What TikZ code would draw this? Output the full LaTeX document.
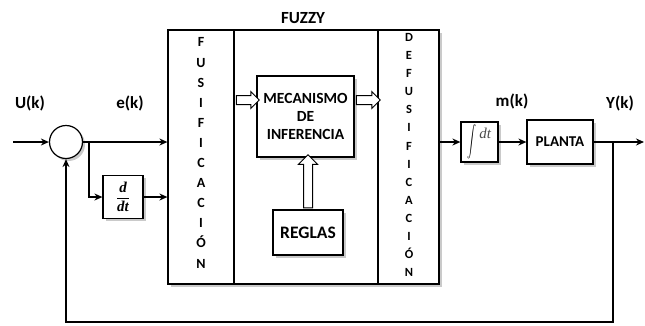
\documentclass[tikz,border=0pt]{standalone}
\usepackage{fontspec}
\usepackage{graphicx}
\setmainfont{Carlito}
\newfontfamily\mathlikefont{Liberation Serif}
\usetikzlibrary{arrows.meta,shapes.arrows,shadows,calc}
\begin{document}
\begin{tikzpicture}[x=1pt,y=-1pt,
  conn/.style={line width=1.6pt},
  >={Stealth[length=8pt,width=7pt]},
  shad/.style={drop shadow={shadow xshift=2.5pt,shadow yshift=-2.5pt,opacity=0.35,fill=black!60}},
  blk/.style={draw,fill=white,line width=1.2pt,inner sep=0pt},
  frame/.style={draw,line width=1.2pt,inner sep=0pt},
  harrow/.style={single arrow,draw,fill=white,line width=1pt,inner xsep=0pt,inner ysep=4pt,single arrow head extend=4pt},
  varrow/.style={single arrow,draw,fill=white,line width=1pt,inner xsep=4pt,inner ysep=0pt,single arrow head extend=5pt,shape border rotate=90},
  lbl/.style={font=\bfseries\fontsize{17}{17}\selectfont},
  vlet/.style={align=center,font=\bfseries\fontsize{14}{20.1}\selectfont},
  vlet2/.style={align=center,font=\bfseries\fontsize{12.5}{18.1}\selectfont}]
\useasboundingbox (0,0) rectangle (645,325);
% fuzzy frame
\node[blk,shad,minimum width=271pt,minimum height=254pt] (fz) at (303.5,157) {};
\node[frame,minimum width=66pt,minimum height=254pt] (fus) at (201,157) {};
\node[frame,minimum width=144pt,minimum height=254pt] (mid) at (306,157) {};
\node[frame,minimum width=61pt,minimum height=254pt] (defus) at (408.5,157) {};
\node[lbl] (fuzzy) at (303,18) {FUZZY};
\node[vlet] (fustxt) at (201,153) {F\\U\\S\\I\\F\\I\\C\\A\\C\\I\\Ó\\N};
\node[vlet2] (defustxt) at (409,155) {D\\E\\F\\U\\S\\I\\F\\I\\C\\A\\C\\I\\Ó\\N};
% inner blocks
\node[blk,shad,minimum width=97pt,minimum height=81pt,align=center,
      font=\bfseries\fontsize{15.5}{18}\selectfont] (mec) at (305.5,116.5) {MECANISMO\\DE\\INFERENCIA};
\node[blk,shad,minimum width=70pt,minimum height=45pt,
      font=\bfseries\fontsize{17.5}{18}\selectfont] (reg) at (308,232.5) {REGLAS};
\node[harrow,minimum height=23pt] (ha1) at (245.5,100) {};
\node[harrow,minimum height=24pt] (ha2) at (366,100) {};
\node[varrow,minimum height=53pt] (ha3) at (308,183.5) {};
% left side
\node[draw,circle,fill=white,line width=1.2pt,minimum size=33pt,inner sep=0pt,shad] (sum) at (66,142) {};
\node[blk,shad,minimum width=40pt,minimum height=43pt,
      font=\mathlikefont\bfseries\itshape\fontsize{15}{15}\selectfont] (ddt) at (123,197) {$\displaystyle\frac{\mbox{d}}{\mbox{dt}}$};
\coordinate (in) at (13,142);
\coordinate (br) at (89,142);
\node[lbl] (uk) at (30,103) {U(k)};
\node[lbl] (ek) at (130,103) {e(k)};
\draw[conn,->] (in) -- (sum.west);
\draw[conn,->] (sum.east) -- (sum.east -| fus.west);
\draw[conn,->] (br) |- (ddt.west);
\draw[conn,->] (ddt.east) -- (ddt.east -| fus.west);
% right side
\node[blk,shad,minimum width=37pt,minimum height=40pt,
      font=\fontsize{15}{15}\selectfont] (int) at (479.5,142) {\raisebox{-0.5\height}{\scalebox{0.9}[1.55]{$\displaystyle\int$}}\,\raisebox{-0.3ex}{\textcolor{black!70}{\mathlikefont\itshape dt}}};
\node[blk,shad,minimum width=66pt,minimum height=44pt,
      font=\bfseries\fontsize{15}{15}\selectfont] (plant) at (560,142) {PLANTA};
\node[lbl] (mk) at (512,101) {m(k)};
\node[lbl] (yk) at (620,103) {Y(k)};
\coordinate (out) at (644,142);
\coordinate (yb) at (613,142);
\coordinate (fb) at (66,322);
\draw[conn,->] (defus.east |- int.west) -- (int.west);
\draw[conn,->] (int.east) -- (plant.west);
\draw[conn,->] (plant.east) -- (out);
\draw[conn,->] (yb) -- (yb |- fb) -- (fb) -- (sum.south);
\end{tikzpicture}
\end{document}
